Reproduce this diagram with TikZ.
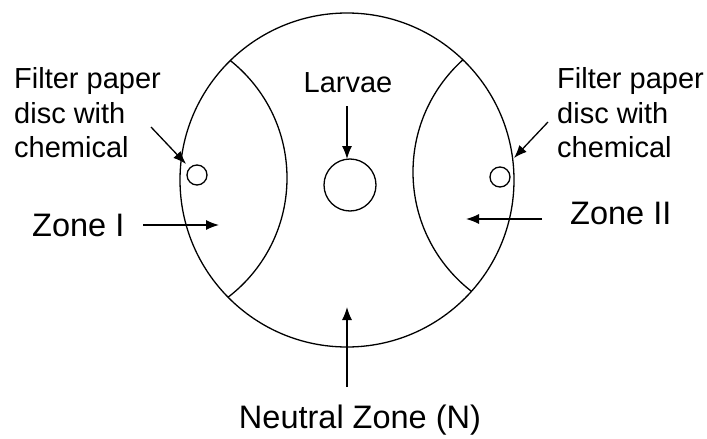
\documentclass[tikz,border=0pt]{standalone}
\usepackage{fontspec}
\setmainfont{Liberation Sans}
\usetikzlibrary{arrows.meta}
\begin{document}
\begin{tikzpicture}[x=1pt,y=-1pt,
  lbl/.style={inner sep=0pt, align=left, font=\fontsize{29}{34.5}\selectfont},
  zlbl/.style={inner sep=0pt, font=\fontsize{32.5}{38}\selectfont},
  ring/.style={draw, line width=1.3pt},
  disc/.style={circle, draw, line width=1.3pt, inner sep=0pt},
  arr/.style={line width=1.3pt, -{Latex[length=13pt,width=10pt]}}]
\useasboundingbox (0,0) rectangle (707,439);
% dish
\node[circle, ring, minimum size=334pt, inner sep=0pt] (dish) at (347,180) {};
\begin{scope}
  \clip (347,180) circle[radius=167pt];
  \draw[line width=1.3pt] (137,178) circle[radius=150pt];
  \draw[line width=1.3pt] (564,172) circle[radius=151pt];
\end{scope}
% discs and larvae
\node[disc, minimum size=20pt] (discL) at (197,175) {};
\node[disc, minimum size=20pt] (discR) at (500,177) {};
\node[disc, minimum size=52pt] (larva) at (350,185) {};
% labels
\node[lbl, anchor=west] (fpL) at (14,113) {Filter paper\\disc with\\chemical};
\node[lbl, anchor=west] (fpR) at (557,113) {Filter paper\\disc with\\chemical};
\node[lbl] (larvae) at (348,83) {Larvae};
\node[zlbl, anchor=west] (zoneI) at (32,225) {Zone I};
\node[zlbl, anchor=west] (zoneII) at (570,213) {Zone II};
\node[zlbl] (neutral) at (360,420) {Neutral Zone (N)};
% arrow ends
\coordinate (fpLs) at (151,127);
\coordinate (fpLt) at (186,164);
\coordinate (fpRs) at (548,122);
\coordinate (fpRt) at (514,158);
\coordinate (larS) at (347,106);
\coordinate (larT) at (347,159);
\coordinate (zIs) at (143,225);
\coordinate (zIt) at (219,225);
\coordinate (zIIs) at (542,219);
\coordinate (zIIt) at (466,219);
\coordinate (nS) at (347,387);
\coordinate (nT) at (347,307);
% arrows
\draw[arr] (fpLs) -- (fpLt);
\draw[arr] (fpRs) -- (fpRt);
\draw[arr] (larS) -- (larT);
\draw[arr] (zIs) -- (zIt);
\draw[arr] (zIIs) -- (zIIt);
\draw[arr] (nS) -- (nT);
\end{tikzpicture}
\end{document}
